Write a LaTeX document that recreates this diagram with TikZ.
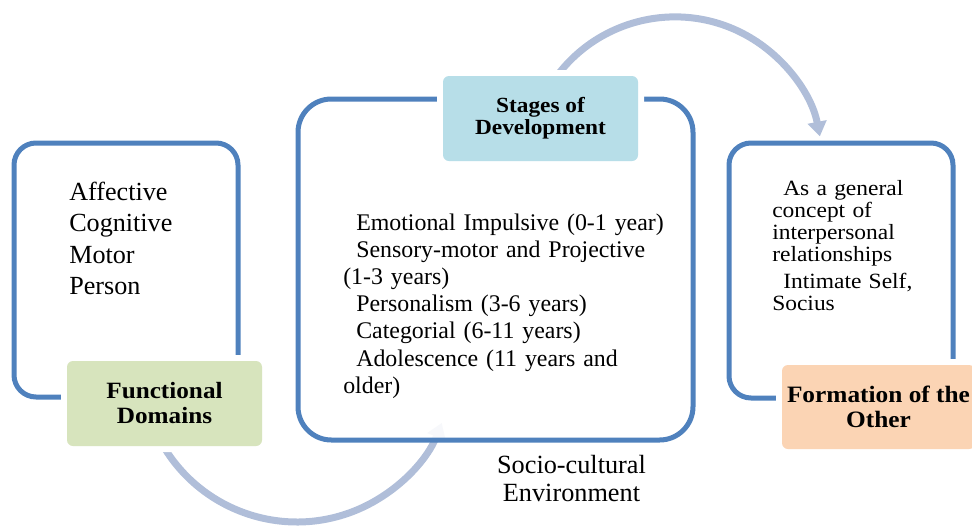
\documentclass[tikz,border=0pt]{standalone}
\usepackage{fontspec}
\setmainfont{Liberation Serif}
\newfontfamily\camfont[FakeStretch=1.08]{Liberation Serif}
\usetikzlibrary{arrows.meta}
\definecolor{boxblue}{RGB}{79,129,189}
\definecolor{arcblue}{RGB}{176,190,217}
\definecolor{fgreen}{RGB}{215,228,189}
\definecolor{fcyan}{RGB}{183,222,232}
\definecolor{fpeach}{RGB}{251,212,180}
\begin{document}
\begin{tikzpicture}[x=0.75pt,y=-0.75pt,
  frame/.style={draw=boxblue, line width=3.75pt, fill=white, fill opacity=0.9, text opacity=1, inner sep=0pt},
  lbl/.style={preaction={draw=white, line width=9pt}, fill=#1, rounded corners=4.5pt, inner sep=0pt,
    align=center, minimum width=146.25pt, minimum height=63.75pt},
  bigarc/.style={draw=arcblue, line width=5.25pt, -{Triangle[width=14pt,length=11pt]}},
  body/.style={anchor=base west, inner sep=0pt, align=left, text width=#1}
]
\useasboundingbox (0,0) rectangle (972,529);
\clip (0,0) rectangle (972,529);

% arc centres
\coordinate (topc) at (675,164.5);
\coordinate (botc) at (296.9,366.5);

% arcs (behind everything)
\draw[bigarc] ([shift={(205:116.6pt)}]botc) arc[start angle=205, end angle=338.7, radius=116.6pt];
\draw[bigarc] ([shift={(148:110.7pt)}]topc) arc[start angle=148, end angle=11, radius=110.7pt];

% frames
\node[frame, rounded corners=16.5pt, minimum width=168pt, minimum height=190.5pt] (lframe) at (126,270) {};
\node[frame, rounded corners=25pt, minimum width=296.25pt, minimum height=255.75pt] (mframe) at (495.5,269.5) {};
\node[frame, rounded corners=16.5pt, minimum width=168pt, minimum height=191.25pt] (rframe) at (841,270.5) {};

% label boxes
\node[lbl=fgreen, font=\camfont\bfseries\fontsize{17.5pt}{18.75pt}\selectfont] (func) at (164.5,403.5) {Functional\\Domains};
\node[lbl=fcyan, font=\camfont\bfseries\fontsize{16.2pt}{16.5pt}\selectfont] (stages) at (540.5,118.5) {Stages of\\Development};
\node[lbl=fpeach, minimum width=144.75pt, minimum height=63pt, font=\camfont\bfseries\fontsize{17.6pt}{18.75pt}\selectfont] (other) at (878.5,407) {Formation of the\\Other};

% body texts
\node[body=150pt, font=\fontsize{19.6pt}{23.7pt}\selectfont] (ltext) at (69,200)
  {Affective\\Cognitive\\Motor\\Person};
\node[body=260pt, font=\fontsize{17.9pt}{20.4pt}\selectfont] (mtext) at (343,230)
  {\hspace*{9.75pt}Emotional Impulsive (0-1 year)\\
   \hspace*{9.75pt}Sensory-motor and Projective\\
   (1-3 years)\\
   \hspace*{9.75pt}Personalism (3-6 years)\\
   \hspace*{9.75pt}Categorial (6-11 years)\\
   \hspace*{9.75pt}Adolescence (11 years and\\
   older)};
\node[body=140pt, font=\camfont\fontsize{16.3pt}{16.7pt}\selectfont] (rtext) at (772,195)
  {\hspace*{8.25pt}As a general\\
   concept of\\
   interpersonal\\
   relationships\\[3pt]
   \hspace*{8.25pt}Intimate Self,\\
   Socius};
\node[anchor=base, inner sep=0pt, align=center, text width=160pt, font=\fontsize{19.7pt}{21.5pt}\selectfont] (socio) at (571.5,473)
  {Socio-cultural\\Environment};
\end{tikzpicture}
\end{document}
